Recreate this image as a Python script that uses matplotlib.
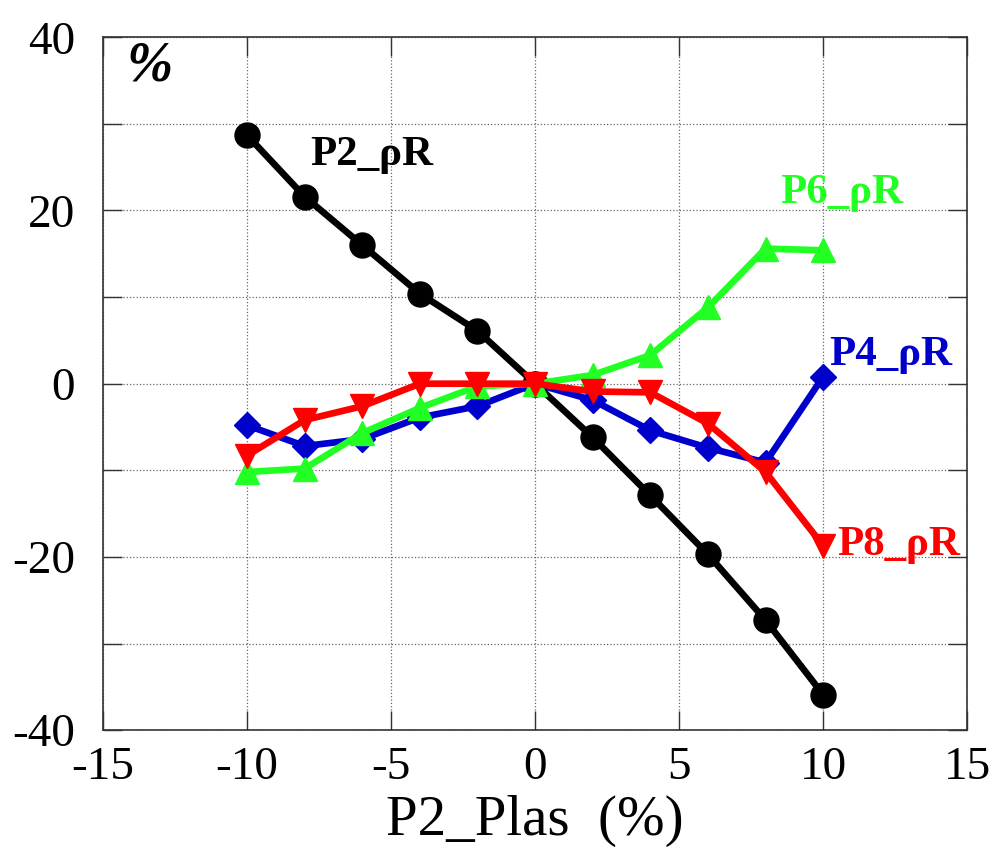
import matplotlib.pyplot as plt
from matplotlib.ticker import MultipleLocator

# dane
x = [-10, -8, -6, -4, -2, 0, 2, 4, 6, 8, 10]
p2_rhoR = [28.7, 21.6, 16.0, 10.4, 6.1, 0.0, -6.2, -12.9, -19.7, -27.3, -35.9]
p4_rhoR = [-4.8, -7.2, -6.4, -3.9, -2.6, 0.0, -1.9, -5.4, -7.4, -9.1, 0.8]
p6_rhoR = [-10.2, -9.8, -5.7, -2.8, -0.3, 0.0, 1.0, 3.3, 8.8, 15.6, 15.4]
p8_rhoR = [-8.3, -4.2, -2.6, 0.0, 0.0, 0.0, -0.9, -1.0, -4.6, -10.2, -18.7]

plt.rcParams['font.family'] = ['Liberation Serif', 'DejaVu Serif']
plt.rcParams['axes.unicode_minus'] = False

fig = plt.figure(figsize=(9.94, 8.47), dpi=100)
ax = fig.add_axes([0.1036, 0.138, 0.8694, 0.818])

lw = 4.8
ax.plot(x, p2_rhoR, color='black', lw=lw, marker='o', ms=18, zorder=3)
ax.plot(x, p4_rhoR, color='#0000cc', lw=lw, marker='D', ms=13, zorder=4)
ax.plot(x, p8_rhoR, color='#ff0000', lw=lw, marker='v', ms=17, zorder=5)
ax.plot(x, p6_rhoR, color='#22ff22', lw=lw, marker='^', ms=17, zorder=4)

ax.set_xlim(-15, 15)
ax.set_ylim(-40, 40)
ax.xaxis.set_major_locator(MultipleLocator(5))
ax.yaxis.set_major_locator(MultipleLocator(20))
ax.yaxis.set_minor_locator(MultipleLocator(10))
ax.grid(True, which='both', color='#666666', lw=0.9, ls=':')
ax.tick_params(which='both', direction='in', length=14, width=1, top=True, right=True,
               labelsize=34, colors='#333333', labelcolor='black')
ax.tick_params(axis='y', pad=20)
ax.tick_params(axis='x', pad=12)
for s in ax.spines.values():
    s.set_color('#333333')
    s.set_linewidth(1.2)

ax.set_xlabel('P2_Plas  (%)', fontsize=41, labelpad=4)

opis = dict(fontsize=31, fontweight='bold', va='center', ha='left')
ax.text(-7.8, 26.4, 'P2_ρR', color='black', **opis)
ax.text(8.5, 22.0, 'P6_ρR', color='#22ff22', **opis)
ax.text(10.2, 3.3, 'P4_ρR', color='#0000cc', **opis)
ax.text(10.5, -18.6, 'P8_ρR', color='#ff0000', **opis)
ax.text(-14.2, 36.6, '%', fontsize=40, fontweight='bold', style='italic', va='center', ha='left')

fig.savefig('out.png', dpi=100)
